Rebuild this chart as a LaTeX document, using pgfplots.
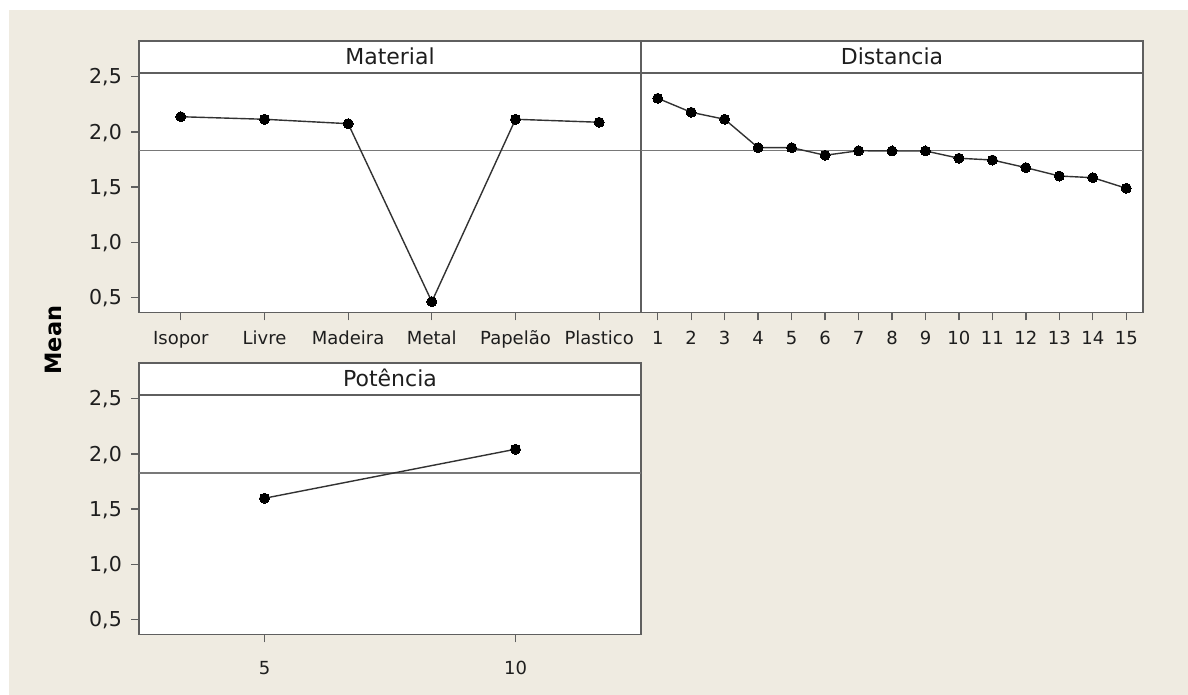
\documentclass[border=0pt]{standalone}
\usepackage{pgfplots}
\pgfplotsset{compat=1.18}
\usepackage{fontspec}
\setmainfont{DejaVu Sans}
\definecolor{bg}{RGB}{239,235,225}
\definecolor{frame}{RGB}{95,95,95}
\definecolor{refl}{RGB}{120,120,120}
\definecolor{dline}{RGB}{50,50,50}
\definecolor{txt}{RGB}{30,30,30}
\tikzset{titl/.style={font=\fontsize{22}{24}\selectfont, text=txt, anchor=base, inner sep=0pt}}
\begin{document}
\begin{tikzpicture}[x=1pt,y=1pt]
\fill[white] (0,0) rectangle (1188,695);
\fill[bg] (9,0) rectangle (1188,685);
\pgfplotsset{
  panel/.style={
    scale only axis, width=502pt, height=271.5pt,
    anchor=south west,
    ymin=0.364, ymax=2.823,
    ytick={0.5,1,1.5,2,2.5},
    yticklabels={{0,5},{1,0},{1,5},{2,0},{2,5}},
    axis line style={draw=frame, line width=1.6pt},
    axis background/.style={fill=white},
    tick align=outside, tick pos=left,
    major tick length=8pt,
    tick style={draw=frame, line width=1.3pt},
    yticklabel style={font=\fontsize{20.5}{22}\selectfont, text=txt, inner sep=0pt, anchor=east, xshift=-9pt, text height=14.5pt, text depth=0pt},
    xticklabel style={font=\fontsize{18}{20}\selectfont, text=txt, inner sep=0pt, anchor=north, yshift=-10.5pt, text height=13pt, text depth=4pt},
    clip=false,
  },
  dat/.style={dline, line width=1.4pt, mark=*, mark size=5pt, mark options={fill=black, draw=black, line width=0pt}},
  refline/.style={refl, line width=1.5pt},
  stripline/.style={frame, line width=1.6pt},
}
% Material
\begin{axis}[panel, at={(139pt,382.5pt)}, xmin=-0.5, xmax=5.5,
  xtick={0,1,2,3,4,5}, xticklabels={Isopor,Livre,Madeira,Metal,Papelão,Plastico}]
\addplot[refline] coordinates {(-0.5,1.831) (5.5,1.831)};
\addplot[stripline] coordinates {(-0.5,2.533) (5.5,2.533)};
\addplot[dat] coordinates {(0,2.137) (1,2.114) (2,2.074) (3,0.462) (4,2.114) (5,2.087)};
\node[titl] at (axis cs:2.5,2.606) {Material};
\end{axis}
% Distancia
\begin{axis}[panel, at={(641pt,382.5pt)}, xmin=0.5, xmax=15.5, ytick=\empty,
  xtick={1,2,3,4,5,6,7,8,9,10,11,12,13,14,15},
  xticklabels={1,2,3,4,5,6,7,8,9,10,11,12,13,14,15}]
\addplot[refline] coordinates {(0.5,1.831) (15.5,1.831)};
\addplot[stripline] coordinates {(0.5,2.533) (15.5,2.533)};
\addplot[dat] coordinates {(1,2.304) (2,2.177) (3,2.114) (4,1.857) (5,1.857) (6,1.788) (7,1.829) (8,1.827) (9,1.827) (10,1.761) (11,1.745) (12,1.676) (13,1.600) (14,1.585) (15,1.489)};
\node[titl] at (axis cs:8,2.606) {Distancia};
\end{axis}
% Potencia
\begin{axis}[panel, at={(139pt,60.5pt)}, xmin=2.5, xmax=12.5,
  xtick={5,10}, xticklabels={5,10},
  xticklabel style={yshift=-8pt}]
\addplot[refline] coordinates {(2.5,1.825) (12.5,1.825)};
\addplot[stripline] coordinates {(2.5,2.533) (12.5,2.533)};
\addplot[dat] coordinates {(5,1.598) (10,2.042)};
\node[titl] at (axis cs:7.5,2.606) {Potência};
\end{axis}
\node[rotate=90, font=\bfseries\fontsize{22.5}{24}\selectfont, text=black, inner sep=0pt] at (53,355) {Mean};
\end{tikzpicture}
\end{document}
